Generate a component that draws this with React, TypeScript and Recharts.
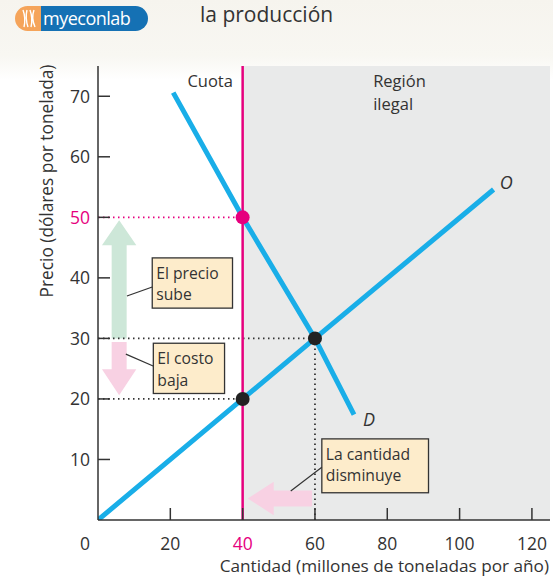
import React from 'react';
import {
  ComposedChart, Line, Scatter, XAxis, YAxis, ReferenceLine, ReferenceArea, ReferenceDot, Label,
} from 'recharts';

const F = "'Open Sans', 'Noto Sans', sans-serif";
const BLUE = '#19aee8';
const MAGENTA = '#e6007e';
const INK = '#333333';

// Data
const xTicks = [0, 20, 40, 60, 80, 100, 120];
const yTicks = [10, 20, 30, 40, 50, 60, 70];
const demandData = [
  { x: 20.8, y: 70.6 },
  { x: 40, y: 50 },
  { x: 60, y: 30 },
  { x: 70.8, y: 17.4 },
];
const supplyData = [
  { x: 0, y: 0 },
  { x: 40, y: 20 },
  { x: 60, y: 30 },
  { x: 109.4, y: 54.6 },
];
const quota = 40;
const quotaPrice = 50;
const equilibrium = { x: 60, y: 30 };
const quotaCost = 20;
const magentaDots = [{ x: quota, y: quotaPrice }];
const blackDots = [equilibrium, { x: quota, y: quotaCost }];

const xDomain = [0, 125];
const yDomain = [0, 75];

const XTick = (props: any) => {
  const { x, y, payload } = props;
  const v = payload.value;
  return (
    <g>
      {v !== 0 && <line x1={x} x2={x} y1={y} y2={y - 12} stroke={INK} strokeWidth={1.5} />}
      <text x={v === 0 ? x - 13 : x} y={y + 30} textAnchor="middle" fill={v === quota ? MAGENTA : INK}
        fontSize={17.5} fontFamily={F}>{v}</text>
    </g>
  );
};

const YTick = (props: any) => {
  const { x, y, payload } = props;
  const v = payload.value;
  return (
    <g>
      <line x1={x} x2={x + 12} y1={y} y2={y} stroke={INK} strokeWidth={1.5} />
      <text x={x - 8} y={y + 6.5} textAnchor="end" fill={v === quotaPrice ? MAGENTA : INK}
        fontSize={17.5} fontFamily={F}>{v}</text>
    </g>
  );
};

const UpArrow = (fill: string, headH: number, shaftW: number) => (p: any) => {
  const { x, y, width, height } = p;
  const cx = x + width / 2;
  const pts = [
    [cx, y], [x + width, y + headH], [cx + shaftW / 2, y + headH], [cx + shaftW / 2, y + height],
    [cx - shaftW / 2, y + height], [cx - shaftW / 2, y + headH], [x, y + headH],
  ];
  return <polygon points={pts.map((q) => q.join(',')).join(' ')} fill={fill} />;
};

const DownArrow = (fill: string, headH: number, shaftW: number) => (p: any) => {
  const { x, y, width, height } = p;
  const cx = x + width / 2;
  const b = y + height;
  const pts = [
    [cx, b], [x + width, b - headH], [cx + shaftW / 2, b - headH], [cx + shaftW / 2, y],
    [cx - shaftW / 2, y], [cx - shaftW / 2, b - headH], [x, b - headH],
  ];
  return <polygon points={pts.map((q) => q.join(',')).join(' ')} fill={fill} />;
};

const LeftArrow = (fill: string, headL: number, shaftH: number) => (p: any) => {
  const { x, y, width, height } = p;
  const cy = y + height / 2;
  const r = x + width;
  const pts = [
    [x, cy], [x + headL, y], [x + headL, cy - shaftH / 2], [r, cy - shaftH / 2],
    [r, cy + shaftH / 2], [x + headL, cy + shaftH / 2], [x + headL, y + height],
  ];
  return <polygon points={pts.map((q) => q.join(',')).join(' ')} fill={fill} />;
};

const Callout = (lines: string[]) => (p: any) => {
  const { x, y, width, height } = p;
  return (
    <g>
      <rect x={x} y={y} width={width} height={height} fill="#fdeccb" stroke={INK} strokeWidth={1.3} />
      <text x={x + 4} y={y + 21} fontSize={15.7} fill={INK} fontFamily={F}>
        {lines.map((t, i) => (
          <tspan key={i} x={x + 4} dy={i === 0 ? 0 : 21.6}>{t}</tspan>
        ))}
      </text>
    </g>
  );
};

const TextShape = (lines: string[], opts: any = {}) => (p: any) => {
  const { cx, cy } = p;
  return (
    <text x={cx} y={cy} fontSize={opts.size || 16.5} fill={INK} fontFamily={F}
      textAnchor={opts.anchor || 'start'} fontStyle={opts.italic ? 'italic' : 'normal'}>
      {lines.map((t, i) => (
        <tspan key={i} x={cx} dy={i === 0 ? 0 : 22.5}>{t}</tspan>
      ))}
    </text>
  );
};

const dotShape = (fill: string) => (p: any) => <circle cx={p.cx} cy={p.cy} r={7} fill={fill} />;

export default function App() {
  return (
    <div style={{ position: 'absolute', left: 0, top: 0, width: 553, height: 579, background: '#ffffff', fontFamily: F }}>
      <div style={{ position: 'absolute', left: 0, top: 0, width: 553, height: 80, background: 'linear-gradient(#f6f4ee, #f8f7f2 70%, #ffffff)' }} />
      {/* logo */}
      <div style={{ position: 'absolute', left: 15, top: 6, width: 133, height: 25, borderRadius: 13, overflow: 'hidden', display: 'flex' }}>
        <div style={{ width: 26, background: '#f5a45a', position: 'relative' }}>
          <svg width={26} height={25} style={{ position: 'absolute', left: 0, top: 0 }}>
            <path d="M8 4 Q11 12 9 21 M12 4 Q10 12 13 21 M15 4 Q18 12 16 21 M19 4 Q16 12 20 21" stroke="#fff" strokeWidth={1.4} fill="none" />
          </svg>
        </div>
        <div style={{ flex: 1, background: '#1571b4', color: '#fff', fontSize: 18, lineHeight: '25px', paddingLeft: 2, fontFamily: "'Open Sans', sans-serif", letterSpacing: -0.5 }}>myeconlab</div>
      </div>
      <div style={{ position: 'absolute', left: 200, top: 1, fontSize: 21, color: '#333', fontFamily: F, fontWeight: 500, lineHeight: '26px' }}>la producción</div>

      <div style={{ position: 'absolute', left: 0, top: 0 }}>
        <ComposedChart width={553} height={579} margin={{ top: 66, right: 3, bottom: 0, left: 0 }}>
          <ReferenceArea x1={quota} x2={xDomain[1]} y1={yDomain[0]} y2={yDomain[1]} fill="#e9eaea" fillOpacity={1} stroke="none" ifOverflow="visible" />
          <XAxis dataKey="x" type="number" domain={xDomain} ticks={xTicks} height={59} allowDataOverflow
            tickLine={false} tickSize={0} tickMargin={0} tick={<XTick />} axisLine={{ stroke: INK, strokeWidth: 1.5 }} interval={0}>
            <Label content={(p: any) => {
              const vb = p.viewBox;
              return <text x={vb.x + vb.width - 1} y={vb.y + 52} textAnchor="end" fontSize={17.2} fill={INK} fontFamily={F}>Cantidad (millones de toneladas por año)</text>;
            }} />
          </XAxis>
          <YAxis type="number" domain={yDomain} ticks={yTicks} width={98} allowDataOverflow
            tickLine={false} tickSize={0} tickMargin={0} tick={<YTick />} axisLine={{ stroke: INK, strokeWidth: 1.5 }} interval={0}>
            <Label content={(p: any) => {
              const vb = p.viewBox;
              const cx = vb.x + 53;
              const cy = vb.y + 115;
              return <text x={cx} y={cy} textAnchor="middle" fontSize={17.3} fill={INK} fontFamily={F} transform={`rotate(-90 ${cx} ${cy})`}>Precio (dólares por tonelada)</text>;
            }} />
          </YAxis>

          {/* arrows */}
          <ReferenceArea x1={1.1} x2={10.6} y1={30} y2={49.5} shape={UpArrow('#cde7d8', 25, 15)} ifOverflow="visible" />
          <ReferenceArea x1={1.1} x2={10.6} y1={20.6} y2={29.4} shape={DownArrow('#f8d1e3', 26, 15)} ifOverflow="visible" />
          <ReferenceArea x1={41.4} x2={59.2} y1={0.8} y2={6.3} shape={LeftArrow('#f8d1e3', 26, 16)} ifOverflow="visible" />

          {/* guide lines */}
          <ReferenceLine segment={[{ x: 0, y: quotaPrice }, { x: quota, y: quotaPrice }]} stroke={MAGENTA} strokeWidth={1.8} strokeDasharray="1.5 3.5" />
          <ReferenceLine segment={[{ x: 0, y: equilibrium.y }, { x: equilibrium.x, y: equilibrium.y }]} stroke={INK} strokeWidth={1.8} strokeDasharray="1.5 3.5" />
          <ReferenceLine segment={[{ x: 0, y: quotaCost }, { x: quota, y: quotaCost }]} stroke={INK} strokeWidth={1.8} strokeDasharray="1.5 3.5" />
          <ReferenceLine segment={[{ x: equilibrium.x, y: 0 }, { x: equilibrium.x, y: equilibrium.y }]} stroke={INK} strokeWidth={1.8} strokeDasharray="1.5 3.5" />

          {/* leader lines */}
          <ReferenceLine segment={[{ x: 15, y: 38.5 }, { x: 8, y: 37 }]} stroke={INK} strokeWidth={1.2} />
          <ReferenceLine segment={[{ x: 15.4, y: 25.4 }, { x: 7.7, y: 27.4 }]} stroke={INK} strokeWidth={1.2} />
          <ReferenceLine segment={[{ x: 61.9, y: 8.7 }, { x: 53.3, y: 4.8 }]} stroke={INK} strokeWidth={1.2} />

          {/* callouts */}
          <ReferenceArea x1={15} x2={37.2} y1={35} y2={43.3} shape={Callout(['El precio', 'sube'])} ifOverflow="visible" />
          <ReferenceArea x1={15.3} x2={35} y1={20.9} y2={29.2} shape={Callout(['El costo', 'baja'])} ifOverflow="visible" />
          <ReferenceArea x1={61.9} x2={91.4} y1={4.5} y2={13.4} shape={Callout(['La cantidad', 'disminuye'])} ifOverflow="visible" />

          <ReferenceLine x={quota} stroke={MAGENTA} strokeWidth={2.5} />

          <Line data={demandData} dataKey="y" stroke={BLUE} strokeWidth={5} dot={false} isAnimationActive={false} type="linear" />
          <Line data={supplyData} dataKey="y" stroke={BLUE} strokeWidth={5} dot={false} isAnimationActive={false} type="linear" />

          <Scatter data={magentaDots} dataKey="y" shape={dotShape(MAGENTA)} isAnimationActive={false} />
          <Scatter data={blackDots} dataKey="y" shape={dotShape('#222')} isAnimationActive={false} />

          {/* texts */}
          <ReferenceDot x={37.3} y={71.5} r={0} shape={TextShape(['Cuota'], { anchor: 'end' })} ifOverflow="visible" />
          <ReferenceDot x={76.1} y={71.5} r={0} shape={TextShape(['Región', 'ilegal'])} ifOverflow="visible" />
          <ReferenceDot x={111.1} y={54.6} r={0} shape={TextShape(['O'], { italic: true, size: 18 })} ifOverflow="visible" />
          <ReferenceDot x={73.3} y={15.6} r={0} shape={TextShape(['D'], { italic: true, size: 18 })} ifOverflow="visible" />
        </ComposedChart>
      </div>
    </div>
  );
}
